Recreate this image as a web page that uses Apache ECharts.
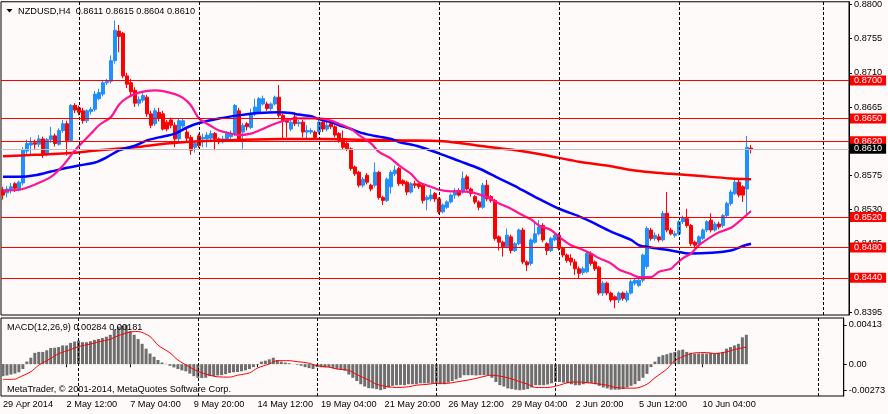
<!DOCTYPE html>
<html><head><meta charset="utf-8">
<script src="https://cdn.jsdelivr.net/npm/echarts@6/dist/echarts.min.js"></script>
<style>html,body{margin:0;padding:0;background:#fffafa;}#c{width:888px;height:414px;}</style>
</head><body><div id="c"></div>
<script>
// ---- tick labels (every 16 H4 bars) ----
const tickLabels = ['29 Apr 2014','2 May 12:00','7 May 04:00','9 May 20:00','14 May 12:00','19 May 04:00','21 May 20:00','26 May 12:00','29 May 04:00','2 Jun 20:00','5 Jun 12:00','10 Jun 04:00'];
const tickStep = 16;
const slotCount = 212;
const priceTicks = [8395,8440,8485,8530,8575,8620,8665,8710,8755,8800]; // x 0.0001
const macdTicks = [-0.00273, 0, 0.00413];
const levels = [8700,8650,8620,8520,8480,8440]; // x 0.0001
const bidLevel = 8610;
const separators = [19,49,79,109,139,169,205];

// ---- candles: [open, close, low, high] in 0.0001 units ----
const ohlc = [
[8556,8549,8543,8560],[8552,8557,8546,8561],[8555,8560,8551,8565],[8564,8558,8553,8566],[8556,8566,8554,8568],
[8565,8608,8562,8612],[8607,8617,8603,8622],[8615,8618,8603,8625],[8618,8616,8610,8622],[8616,8623,8612,8628],
[8623,8603,8598,8626],[8603,8622,8600,8624],[8622,8627,8618,8639],[8627,8617,8613,8630],[8616,8634,8614,8637],
[8634,8643,8631,8648],[8643,8621,8601,8647],[8621,8667,8619,8669],[8667,8661,8657,8670],[8664,8658,8654,8667],
[8660,8647,8643,8664],[8647,8660,8644,8662],[8659,8662,8655,8665],[8662,8682,8659,8686],[8676,8684,8674,8689],
[8682,8697,8679,8700],[8697,8699,8694,8702],[8699,8726,8696,8733],[8726,8766,8722,8779],[8765,8758,8737,8773],
[8762,8706,8703,8764],[8706,8695,8690,8710],[8697,8685,8678,8702],[8687,8670,8665,8691],[8670,8675,8666,8679],
[8674,8680,8671,8683],[8678,8656,8652,8681],[8656,8641,8637,8660],[8643,8660,8640,8664],[8658,8650,8646,8664],
[8656,8636,8634,8660],[8645,8636,8633,8648],[8648,8641,8637,8651],[8641,8623,8612,8645],[8623,8647,8620,8650],
[8640,8647,8637,8650],[8632,8624,8620,8636],[8625,8608,8602,8628],[8612,8617,8605,8619],[8627,8614,8611,8630],
[8623,8625,8612,8630],[8623,8628,8612,8632],[8624,8630,8620,8634],[8630,8623,8608,8632],[8623,8619,8616,8625],
[8619,8623,8617,8627],[8623,8630,8620,8633],[8626,8630,8622,8634],[8630,8667,8627,8669],[8660,8623,8620,8664],
[8632,8641,8610,8644],[8643,8639,8634,8645],[8638,8656,8636,8663],[8656,8665,8653,8676],[8658,8676,8656,8678],
[8669,8676,8667,8680],[8669,8663,8660,8672],[8663,8669,8660,8671],[8669,8678,8667,8680],[8678,8654,8651,8694],
[8654,8647,8623,8656],[8647,8645,8625,8649],[8636,8645,8633,8648],[8652,8643,8640,8658],[8643,8645,8639,8648],
[8645,8632,8625,8648],[8632,8634,8623,8641],[8632,8634,8629,8637],[8632,8625,8622,8634],[8632,8645,8629,8650],
[8645,8636,8632,8648],[8636,8641,8633,8650],[8643,8639,8636,8646],[8639,8628,8625,8641],[8630,8621,8618,8632],
[8623,8612,8609,8634],[8617,8610,8607,8619],[8610,8584,8581,8612],[8586,8577,8574,8588],[8579,8562,8559,8581],
[8562,8570,8559,8573],[8575,8566,8563,8578],[8562,8557,8554,8564],[8562,8579,8559,8592],[8579,8546,8543,8581],
[8546,8542,8536,8548],[8542,8570,8540,8572],[8560,8579,8551,8582],[8577,8582,8574,8588],[8584,8564,8561,8586],
[8568,8564,8561,8570],[8566,8553,8549,8568],[8553,8564,8551,8566],[8564,8562,8558,8568],[8564,8560,8557,8566],
[8562,8542,8538,8564],[8543,8546,8529,8549],[8544,8549,8541,8557],[8551,8544,8540,8553],[8544,8527,8524,8546],
[8527,8536,8525,8538],[8533,8540,8531,8542],[8540,8549,8538,8551],[8549,8555,8544,8558],[8555,8549,8547,8558],
[8553,8571,8551,8580],[8573,8557,8555,8576],[8557,8551,8547,8559],[8547,8540,8537,8549],[8540,8533,8529,8542],
[8533,8562,8531,8565],[8562,8544,8541,8569],[8547,8542,8539,8549],[8542,8492,8489,8544],[8494,8487,8476,8496],
[8487,8481,8468,8489],[8481,8496,8479,8505],[8494,8476,8472,8497],[8476,8485,8474,8487],[8485,8503,8483,8505],
[8503,8461,8458,8506],[8461,8457,8449,8463],[8459,8490,8456,8492],[8487,8498,8485,8514],[8498,8507,8496,8516],
[8509,8490,8487,8512],[8485,8476,8470,8487],[8476,8492,8474,8494],[8490,8496,8488,8500],[8496,8479,8476,8499],
[8479,8470,8467,8481],[8470,8463,8460,8472],[8466,8461,8456,8471],[8461,8452,8444,8465],[8452,8446,8439,8455],
[8447,8452,8444,8455],[8448,8472,8446,8474],[8472,8459,8456,8475],[8461,8452,8449,8463],[8454,8420,8417,8456],
[8420,8433,8416,8436],[8433,8420,8417,8435],[8420,8411,8408,8422],[8415,8411,8400,8417],[8411,8420,8407,8422],
[8420,8413,8410,8422],[8411,8420,8408,8423],[8420,8435,8418,8438],[8433,8437,8430,8440],[8430,8437,8428,8440],
[8437,8470,8434,8472],[8455,8505,8452,8508],[8503,8492,8489,8506],[8492,8496,8489,8500],[8494,8490,8487,8498],
[8490,8525,8488,8528],[8525,8503,8500,8553],[8503,8498,8496,8506],[8496,8498,8493,8502],[8498,8514,8496,8516],
[8514,8519,8511,8522],[8518,8509,8506,8531],[8509,8485,8482,8511],[8487,8483,8480,8489],[8485,8494,8482,8496],
[8492,8503,8490,8505],[8503,8514,8500,8516],[8516,8503,8500,8525],[8503,8511,8501,8514],[8511,8507,8504,8514],
[8509,8522,8506,8524],[8522,8538,8520,8540],[8538,8553,8535,8556],[8551,8566,8549,8569],[8566,8549,8546,8569],
[8560,8549,8540,8562],[8557,8612,8522,8627],[8611,8610,8604,8615]
];

// ---- moving averages, read at sample bars: [bar, price x 0.0001] ----
const maFast = [[0,8555],[4,8556],[8,8563],[12,8573],[15,8588],[18,8608],[22,8630],[24,8641],[27,8652],[29,8668],[31,8677],[34,8684],[38,8687],[40,8686],[43,8682],[45,8677],[47,8667],[49,8650],[52,8640],[54,8634],[57,8630],[59,8628],[62,8630],[64,8634],[67,8641],[69,8645],[72,8649],[74,8650],[77,8650],[79,8650],[82,8647],[84,8643],[87,8636],[89,8628],[92,8617],[94,8606],[97,8597],[99,8588],[102,8577],[104,8566],[107,8560],[109,8556],[112,8554],[114,8554],[117,8553],[119,8550],[122,8544],[124,8538],[127,8531],[129,8525],[132,8517],[134,8509],[137,8503],[139,8494],[142,8483],[144,8479],[147,8472],[149,8466],[152,8459],[154,8451],[157,8445],[159,8441],[162,8441],[164,8448],[167,8452],[168,8457],[170,8466],[172,8472],[174,8483],[177,8494],[179,8500],[182,8506],[184,8514],[187,8528]];
const maMid = [[0,8573],[4,8573],[8,8575],[12,8580],[16,8585],[19,8588],[23,8592],[26,8599],[29,8608],[33,8614],[36,8621],[39,8625],[43,8630],[46,8638],[49,8644],[54,8650],[59,8654],[64,8657],[69,8658],[72,8657],[74,8655],[77,8653],[79,8649],[82,8645],[84,8641],[87,8636],[89,8632],[92,8628],[94,8626],[97,8623],[99,8619],[104,8613],[109,8604],[114,8594],[119,8584],[124,8571],[129,8558],[134,8544],[139,8531],[144,8521],[147,8514],[152,8501],[157,8490],[159,8483],[162,8480],[167,8476],[172,8472],[177,8473],[182,8476],[185,8482],[187,8485]];
const maSlow = [[0,8600],[8,8602],[16,8604],[24,8608],[33,8612],[41,8617],[49,8620],[60,8622],[70,8623],[80,8623],[90,8622],[100,8621],[110,8620],[119,8614],[127,8609],[134,8603],[139,8598],[144,8593],[152,8587],[157,8582],[162,8579],[167,8577],[172,8575],[177,8573],[182,8571],[187,8570]];

// ---- MACD (x 0.00001) ----
const macdHist = [-126,-119,-109,-99,-85,-51,27,68,119,129,
129,146,170,173,180,197,197,224,238,248,
231,231,241,255,265,275,289,309,367,395,
405,413,350,309,265,214,163,112,78,44,
17,3,-17,-34,-51,-65,-75,-99,-126,-143,
-146,-143,-126,-126,-119,-116,-105,-92,-85,-82,
-75,-65,-51,-31,-7,27,37,51,68,44,
27,17,10,-2,-7,-17,-31,-41,-51,-31,
-31,-34,-31,-41,-51,-58,-68,-109,-143,-177,
-211,-235,-252,-255,-262,-273,-262,-245,-228,-221,
-218,-221,-211,-211,-211,-201,-201,-201,-201,-201,
-211,-211,-194,-177,-160,-143,-116,-116,-116,-119,
-116,-116,-116,-143,-187,-221,-235,-255,-262,-269,
-273,-270,-262,-245,-221,-221,-221,-214,-201,-187,
-187,-194,-201,-211,-221,-221,-211,-201,-201,-211,
-228,-245,-255,-268,-268,-268,-262,-245,-228,-211,
-177,-143,-102,-31,27,78,95,105,119,129,
146,153,129,119,112,112,112,112,119,112,
119,129,163,180,197,214,282,309];
const macdSignal = [[0,-160],[3,-158],[4,-140],[7,-80],[9,-10],[12,60],[14,110],[17,153],[19,185],[22,212],[24,235],[27,262],[29,300],[32,338],[34,343],[37,290],[39,200],[42,119],[44,44],[47,-31],[49,-75],[52,-116],[54,-133],[57,-136],[59,-116],[62,-92],[64,-41],[67,3],[69,37],[72,37],[74,27],[77,10],[79,-17],[82,-31],[84,-51],[87,-65],[89,-109],[92,-167],[94,-211],[97,-238],[99,-245],[102,-238],[104,-221],[107,-211],[109,-201],[112,-201],[114,-187],[117,-167],[119,-150],[122,-119],[123,-116],[127,-143],[129,-170],[132,-211],[134,-245],[137,-245],[140,-221],[142,-194],[144,-187],[147,-194],[149,-204],[152,-221],[154,-245],[157,-252],[159,-252],[162,-211],[164,-143],[167,-51],[169,37],[172,95],[174,119],[177,122],[179,112],[182,129],[184,153],[187,181]];

// ---- rendering ----
const FONT = 'Liberation Sans';
const FS = 9.2;
const P = v => v / 10000;
const M = v => v / 100000;
const cats = Array.from({length: slotCount}, (_, i) => String(i));
const showIdx = i => i % tickStep === 0 && i / tickStep < tickLabels.length;

const chart = echarts.init(document.getElementById('c'), null, {renderer: 'canvas'});

const vLineItems = separators.map(i => ({xAxis: i, lineStyle: {color: '#000', width: 1, type: [3, 2]}, label: {show: false}}));
const levelItems = levels.map(v => ({
  yAxis: P(v),
  lineStyle: {color: '#ff0000', width: 1, type: 'solid'},
  label: {show: true, position: 'end', distance: 1, formatter: P(v).toFixed(4), backgroundColor: '#ff0000', color: '#ffffff', padding: [1, 4, 0, 4], fontFamily: FONT, fontSize: FS, lineHeight: 9}
}));
const bidItem = {
  yAxis: P(bidLevel),
  lineStyle: {color: '#c0c0c0', width: 1, type: 'solid'},
  label: {show: true, position: 'end', distance: 1, formatter: P(bidLevel).toFixed(4), backgroundColor: '#000000', color: '#ffffff', padding: [1, 4, 0, 4], fontFamily: FONT, fontSize: FS, lineHeight: 9}
};

const lbl = {color: '#000', fontFamily: FONT, fontSize: FS};

const option = {
  backgroundColor: '#fffafa',
  animation: false,
  textStyle: {fontFamily: FONT, fontSize: FS, color: '#000'},
  grid: [
    {left: 1, top: 1, right: 39, height: 314, show: true, borderColor: '#000', borderWidth: 1, backgroundColor: 'transparent'},
    {left: 1, top: 318, right: 39, height: 78, show: true, borderColor: '#000', borderWidth: 1, backgroundColor: 'transparent'}
  ],
  xAxis: [
    {type: 'category', gridIndex: 0, data: cats, boundaryGap: true, axisLine: {show: false}, axisTick: {show: false}, axisLabel: {show: false}, splitLine: {show: false}},
    {type: 'category', gridIndex: 1, data: cats, boundaryGap: true, axisLine: {show: false},
      axisTick: {show: true, alignWithLabel: true, interval: (i) => showIdx(i), length: 3, lineStyle: {color: '#000'}},
      axisLabel: Object.assign({show: true, interval: (i) => showIdx(i), formatter: (v) => tickLabels[Number(v) / tickStep], align: 'left', margin: 4}, lbl),
      splitLine: {show: false}}
  ],
  yAxis: [
    {type: 'value', gridIndex: 0, position: 'right', min: 0.83911, max: 0.88036, scale: true,
      axisLine: {show: true, lineStyle: {color: '#000'}},
      axisTick: {show: true, length: 3, customValues: priceTicks.map(P), lineStyle: {color: '#000'}},
      axisLabel: Object.assign({customValues: priceTicks.map(P), formatter: v => v.toFixed(4), margin: 5}, lbl),
      splitLine: {show: false}},
    {type: 'value', gridIndex: 1, position: 'right', min: -0.003346, max: 0.004855,
      axisLine: {show: true, lineStyle: {color: '#000'}},
      axisTick: {show: true, length: 3, customValues: macdTicks, lineStyle: {color: '#000'}},
      axisLabel: Object.assign({customValues: macdTicks, formatter: v => (Math.abs(v) < 1e-9 ? '0.00' : v.toFixed(5)), margin: 5}, lbl),
      splitLine: {show: false}}
  ],
  series: [
    {type: 'candlestick', xAxisIndex: 0, yAxisIndex: 0, barWidth: 3,
      data: ohlc.map(r => r.map(P)),
      itemStyle: {color: '#1e90ff', color0: '#ff0000', borderColor: '#1e90ff', borderColor0: '#ff0000', borderWidth: 1},
      markLine: {silent: true, symbol: ['none', 'none'], animation: false, precision: 4, data: vLineItems.concat(levelItems).concat([bidItem])}
    },
    {type: 'line', xAxisIndex: 0, yAxisIndex: 0, data: maSlow.map(([i, v]) => [i, P(v)]), showSymbol: false, smooth: 0.3, lineStyle: {color: '#ff0000', width: 2.5}, z: 3},
    {type: 'line', xAxisIndex: 0, yAxisIndex: 0, data: maMid.map(([i, v]) => [i, P(v)]), showSymbol: false, smooth: 0.3, lineStyle: {color: '#0000ff', width: 2.5}, z: 3},
    {type: 'line', xAxisIndex: 0, yAxisIndex: 0, data: maFast.map(([i, v]) => [i, P(v)]), showSymbol: false, smooth: 0.3, lineStyle: {color: '#ff1493', width: 2.2}, z: 3},
    {type: 'bar', xAxisIndex: 1, yAxisIndex: 1, barWidth: 3, data: macdHist.map(M), itemStyle: {color: '#6e6e6e'},
      markLine: {silent: true, symbol: ['none', 'none'], animation: false, data: vLineItems}},
    {type: 'line', xAxisIndex: 1, yAxisIndex: 1, data: macdSignal.map(([i, v]) => [i, M(v)]), showSymbol: false, smooth: 0.3, lineStyle: {color: '#ff0000', width: 1}, z: 3}
  ],
  graphic: [
    {type: 'polygon', z: 100, shape: {points: [[6.5, 9], [12.5, 9], [9.5, 12.5]]}, style: {fill: '#000'}},
    {type: 'text', z: 100, x: 18, y: 11, style: {text: 'NZDUSD,H4  0.8611 0.8615 0.8604 0.8610', fill: '#000', font: FS + 'px "' + FONT + '"', verticalAlign: 'middle'}},
    {type: 'text', z: 100, x: 7, y: 327, style: {text: 'MACD(12,26,9) 0.00284 0.00181', fill: '#000', font: FS + 'px "' + FONT + '"', verticalAlign: 'middle'}},
    {type: 'text', z: 100, x: 7, y: 389, style: {text: 'MetaTrader, © 2001-2014, MetaQuotes Software Corp.', fill: '#000', font: FS + 'px "' + FONT + '"', verticalAlign: 'middle'}}
  ]
};
chart.setOption(option);
</script>
</body></html>
